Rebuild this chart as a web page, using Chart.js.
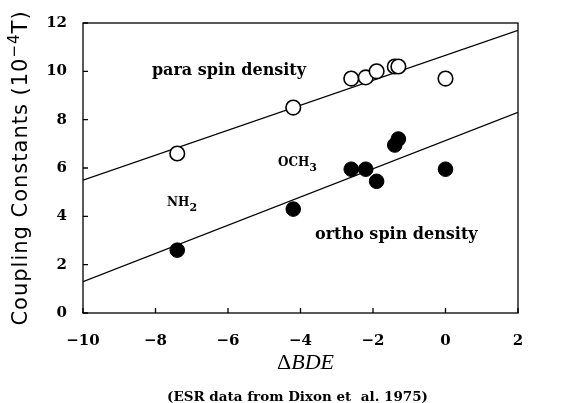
<!DOCTYPE html>
<html>
  <head>
    <title>Coupling constants vs BDE</title>
    <script src="https://cdn.jsdelivr.net/npm/chart.js"></script>
    <style>
      body {
        margin: 0;
        background: #fff;
      }
      #wrap {
        width: 562px;
        height: 403px;
      }
    </style>
  </head>
  <body>
    <div id="wrap">
      <canvas id="myChart" width="562" height="403"></canvas>
    </div>

    <script>
      // ESR data (Dixon et al. 1975)
      const bdeX = [-7.4, -4.2, -2.6, -2.2, -1.9, -1.4, -1.3, 0];
      const paraY = [6.6, 8.5, 9.7, 9.75, 10.0, 10.2, 10.2, 9.7];
      const orthoY = [2.6, 4.3, 5.95, 5.95, 5.45, 6.95, 7.2, 5.95];

      // fitted lines (end points at the axis limits)
      const fitX = [-10, 2];
      const paraFitY = [5.5, 11.7];
      const orthoFitY = [1.3, 8.3];

      const xTicks = [-10, -8, -6, -4, -2, 0, 2];
      const yTicks = [0, 2, 4, 6, 8, 10, 12];

      // in-plot labels: text, subscript, x, y (data units)
      const notes = [
        ["para spin density", "", -8.1, 10.0],
        ["ortho spin density", "", -3.6, 3.25],
        ["OCH", "3", -4.62, 6.2],
        ["NH", "2", -7.68, 4.55],
      ];

      function pts(xs, ys) {
        return xs.map((v, i) => ({ x: v, y: ys[i] }));
      }

      const serifB = "'DejaVu Serif'";

      const textPlugin = {
        id: "texts",
        afterDraw(chart) {
          const ctx = chart.ctx;
          const a = chart.chartArea;
          const xs = chart.scales.x;
          const ys = chart.scales.y;
          ctx.save();
          ctx.strokeStyle = "#000";
          ctx.lineWidth = 1.3;
          // box
          ctx.strokeRect(a.left, a.top, a.right - a.left, a.bottom - a.top);
          // inward ticks
          ctx.beginPath();
          xTicks.forEach((t) => {
            const px = xs.getPixelForValue(t);
            ctx.moveTo(px, a.bottom);
            ctx.lineTo(px, a.bottom - 5);
          });
          yTicks.forEach((t) => {
            const py = ys.getPixelForValue(t);
            ctx.moveTo(a.left, py);
            ctx.lineTo(a.left + 5, py);
          });
          ctx.stroke();

          // labels inside the plot
          ctx.fillStyle = "#000";
          ctx.textBaseline = "middle";
          ctx.textAlign = "left";
          notes.forEach((n) => {
            const big = n[1] ? 12 : 16;
            ctx.font = "bold " + big + "px " + serifB;
            const px = xs.getPixelForValue(n[2]);
            const py = ys.getPixelForValue(n[3]);
            ctx.fillText(n[0], px, py);
            if (n[1]) {
              const w = ctx.measureText(n[0]).width;
              ctx.font = "bold 11px " + serifB;
              ctx.fillText(n[1], px + w, py + 5);
            }
          });

          // y axis title
          ctx.save();
          ctx.translate(22, (a.top + a.bottom) / 2);
          ctx.rotate(-Math.PI / 2);
          ctx.letterSpacing = "1px";
          const t1 = "Coupling Constants (10";
          const t2 = "\u22124";
          const t3 = "T)";
          ctx.font = "21px 'DejaVu Sans'";
          const w1 = ctx.measureText(t1).width;
          const w3 = ctx.measureText(t3).width;
          ctx.font = "15px 'DejaVu Sans'";
          const w2 = ctx.measureText(t2).width;
          let sx = -(w1 + w2 + w3) / 2;
          ctx.textAlign = "left";
          ctx.font = "21px 'DejaVu Sans'";
          ctx.fillText(t1, sx, 0);
          ctx.font = "15px 'DejaVu Sans'";
          ctx.fillText(t2, sx + w1, -7);
          ctx.font = "21px 'DejaVu Sans'";
          ctx.fillText(t3, sx + w1 + w2, 0);
          ctx.restore();

          // x axis title: upright delta, italic BDE
          ctx.font = "22px 'Liberation Serif'";
          const d = "\u0394";
          const wd = ctx.measureText(d).width;
          ctx.font = "italic 22px 'Liberation Serif'";
          const wb = ctx.measureText("BDE").width;
          const cx = (a.left + a.right) / 2 + 5;
          ctx.font = "22px 'Liberation Serif'";
          ctx.fillText(d, cx - (wd + wb) / 2, a.bottom + 50);
          ctx.font = "italic 22px 'Liberation Serif'";
          ctx.fillText("BDE", cx - (wd + wb) / 2 + wd, a.bottom + 50);

          // source note
          ctx.textAlign = "center";
          ctx.font = "bold 13.5px " + serifB;
          ctx.fillText("(ESR data from Dixon et  al. 1975)", cx - 8, a.bottom + 84);
          ctx.restore();
        },
      };

      const ctx = document.getElementById("myChart").getContext("2d");
      new Chart(ctx, {
        type: "scatter",
        data: {
          datasets: [
            {
              data: pts(fitX, paraFitY),
              showLine: true,
              borderColor: "#000",
              borderWidth: 1.3,
              pointRadius: 0,
              order: 3,
            },
            {
              data: pts(fitX, orthoFitY),
              showLine: true,
              borderColor: "#000",
              borderWidth: 1.3,
              pointRadius: 0,
              order: 3,
            },
            {
              data: pts(bdeX, paraY),
              pointRadius: 7.3,
              pointBackgroundColor: "#fff",
              pointBorderColor: "#000",
              pointBorderWidth: 1.6,
              order: 1,
            },
            {
              data: pts(bdeX, orthoY),
              pointRadius: 7.3,
              pointBackgroundColor: "#000",
              pointBorderColor: "#000",
              pointBorderWidth: 1,
              order: 1,
            },
          ],
        },
        options: {
          responsive: false,
          animation: false,
          devicePixelRatio: 1,
          layout: { padding: { top: 23, right: 44, left: 0, bottom: 0 } },
          plugins: {
            legend: { display: false },
            tooltip: { enabled: false },
          },
          scales: {
            x: {
              min: -10,
              max: 2,
              afterFit: (s) => {
                s.height = 90;
              },
              afterBuildTicks: (s) => {
                s.ticks = xTicks.map((v) => ({ value: v }));
              },
              grid: { display: false },
              border: { display: false },
              ticks: {
                padding: 11,
                color: "#000",
                font: { family: "DejaVu Serif", weight: "bold", size: 15 },
                callback: (v) => String(v).replace("-", "\u2212"),
              },
            },
            y: {
              min: 0,
              max: 12,
              afterFit: (s) => {
                s.width = 83;
              },
              afterBuildTicks: (s) => {
                s.ticks = yTicks.map((v) => ({ value: v }));
              },
              grid: { display: false },
              border: { display: false },
              ticks: {
                padding: 8,
                color: "#000",
                font: { family: "DejaVu Serif", weight: "bold", size: 15 },
              },
            },
          },
        },
        plugins: [textPlugin],
      });
    </script>
  </body>
</html>
